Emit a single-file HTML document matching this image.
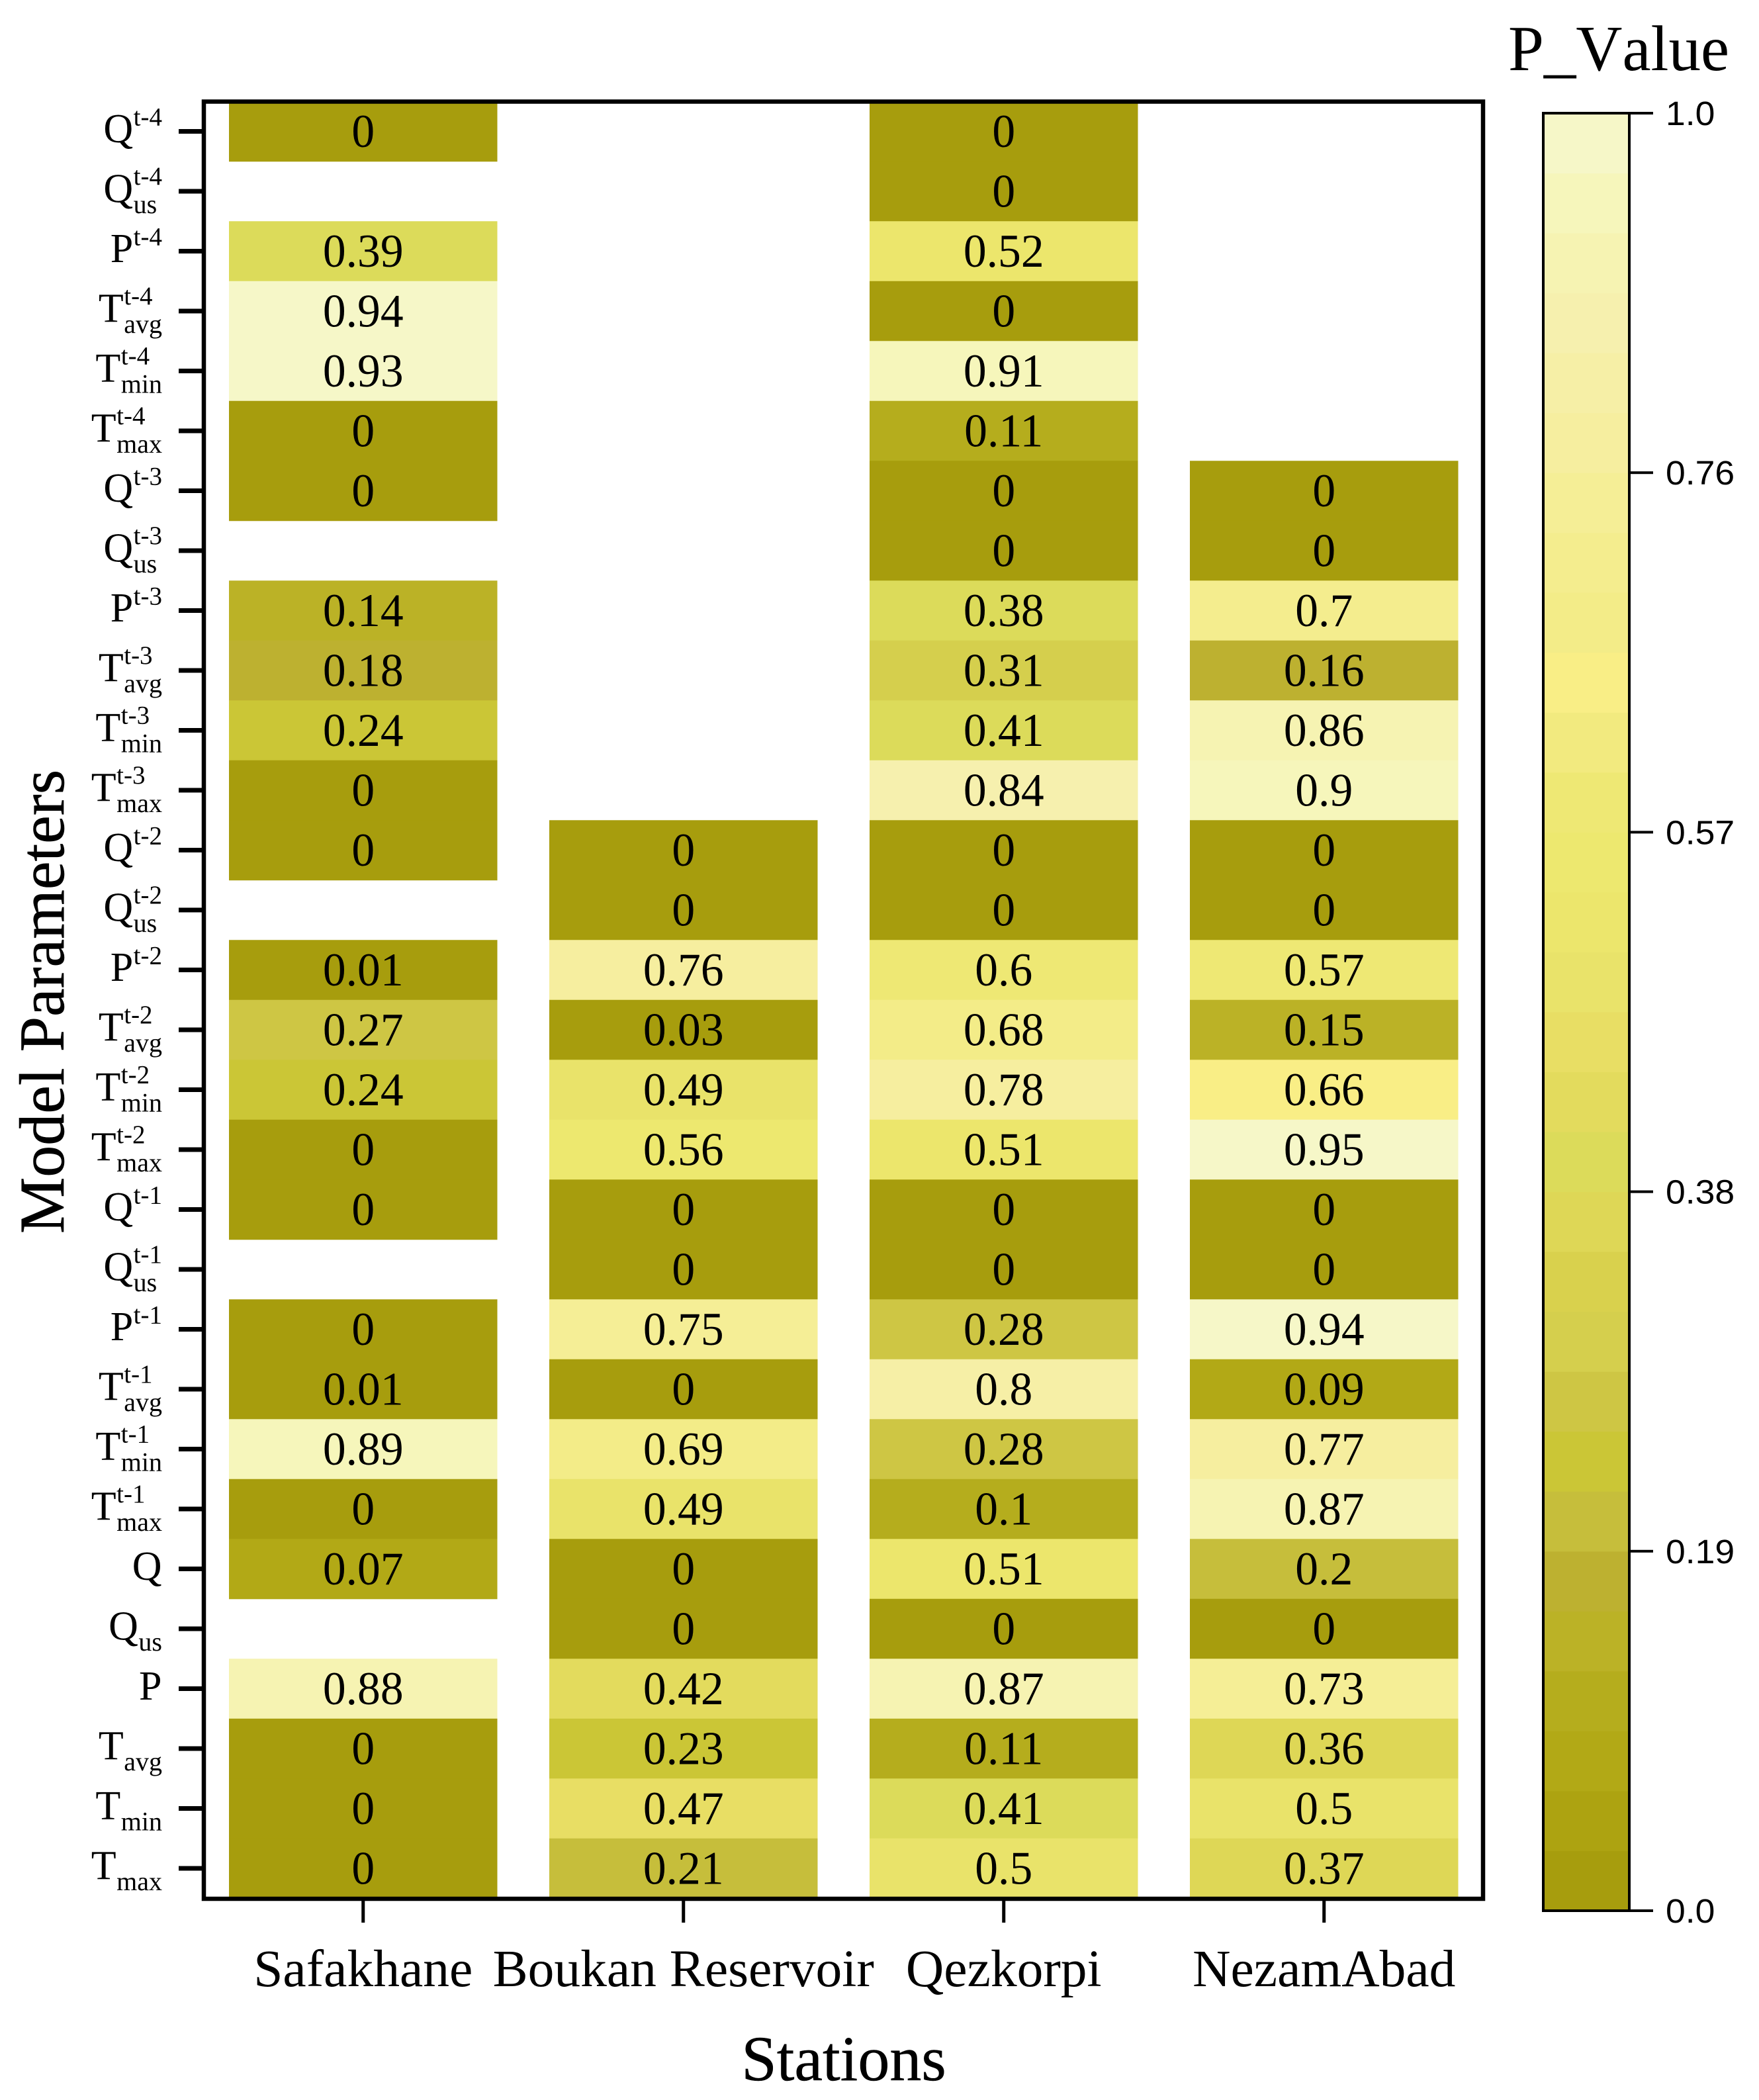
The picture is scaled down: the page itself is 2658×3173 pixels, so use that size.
<!DOCTYPE html>
<html lang="en">
<head>
<meta charset="utf-8">
<title>P-value heatmap by station and model parameter</title>
<style>
html,body{margin:0;padding:0;background:#fff;}
svg{display:block;}
text{fill:#000;font-family:"Liberation Serif",serif;}
</style>
</head>
<body>
<svg id="chart" xmlns="http://www.w3.org/2000/svg" width="2658" height="3173" viewBox="0 0 2658 3173">
  <rect x="0" y="0" width="2658" height="3173" fill="#ffffff"/>
  <g id="cells"></g>
  <g id="cell-labels"></g>
  <rect x="308" y="153.5" width="1933" height="2715.5" fill="none" stroke="#000" stroke-width="6.5"/>
  <g id="y-axis"></g>
  <g id="x-axis"></g>
  <text transform="translate(96,1513.5) rotate(-90)" text-anchor="middle" font-size="96" style="font-kerning:none" stroke="#000" stroke-width="0.6">Model Parameters</text>
  <text x="1275" y="3143" text-anchor="middle" font-size="96" stroke="#000" stroke-width="0.5">Stations</text>
  <g id="colorbar"></g>
  <text x="2446" y="106" text-anchor="middle" font-size="97" style="font-kerning:none">P_Value</text>
</svg>
<script>
const stations = ['Safakhane', 'Boukan Reservoir', 'Qezkorpi', 'NezamAbad'];
const paramBases = ['Q', 'Q', 'P', 'T', 'T', 'T'];
const paramSubs = ['', 'us', '', 'avg', 'min', 'max'];
const lagLabels = ['t-4', 't-3', 't-2', 't-1', ''];
const safakhaneValues = [0, null, 0.39, 0.94, 0.93, 0, 0, null, 0.14, 0.18, 0.24, 0, 0, null, 0.01, 0.27, 0.24, 0, 0, null, 0, 0.01, 0.89, 0, 0.07, null, 0.88, 0, 0, 0];
const boukanValues = [null, null, null, null, null, null, null, null, null, null, null, null, 0, 0, 0.76, 0.03, 0.49, 0.56, 0, 0, 0.75, 0, 0.69, 0.49, 0, 0, 0.42, 0.23, 0.47, 0.21];
const qezkorpiValues = [0, 0, 0.52, 0, 0.91, 0.11, 0, 0, 0.38, 0.31, 0.41, 0.84, 0, 0, 0.6, 0.68, 0.78, 0.51, 0, 0, 0.28, 0.8, 0.28, 0.1, 0.51, 0, 0.87, 0.11, 0.41, 0.5];
const nezamAbadValues = [null, null, null, null, null, null, 0, 0, 0.7, 0.16, 0.86, 0.9, 0, 0, 0.57, 0.15, 0.66, 0.95, 0, 0, 0.94, 0.09, 0.77, 0.87, 0.2, 0, 0.73, 0.36, 0.5, 0.37];
const colorTickValues = [0, 0.19, 0.38, 0.57, 0.76, 0.95];
const colorTickLabels = ['0.0', '0.19', '0.38', '0.57', '0.76', '1.0'];
const colorBandCount = 30;

const seriesValues = [safakhaneValues, boukanValues, qezkorpiValues, nezamAbadValues];

const palette = ['#a79d0d','#ada311','#b2a916','#b5ad1d','#bbb226','#bdb130','#c6be3b','#cbc636','#cec644','#d5cf4d',
                 '#d9d14d','#ded756','#dcdb5a','#e3db5d','#e8de64','#e9e36a','#ece66c','#ede86f','#eee874','#f2ea7f',
                 '#f9ee86','#f3ec88','#f4ed8e','#f5ee96','#f6ee9f','#f6efa6','#f6f0ae','#f6f3b2','#f6f6bb','#f6f7c8'];

const NS = 'http://www.w3.org/2000/svg';
const rowTop = 153.25, rowStep = 90.5;
const colLeft = 346, colStep = 484, colWidth = 405.5;
const barTop = 171, barBottom = 2887, barLeft = 2332, barRight = 2462;
const colorMax = colorTickValues[colorTickValues.length - 1];

function xBand(i) { return colLeft + i * colStep; }
function xCenter(i) { return xBand(i) + colWidth / 2; }
function yBand(r) { return rowTop + r * rowStep; }
function yCenter(r) { return yBand(r) + rowStep / 2; }
function colorY(v) { return barBottom - (v / colorMax) * (barBottom - barTop); }
function bandIndex(v) { return Math.max(0, Math.min(colorBandCount - 1, Math.floor(v / colorMax * colorBandCount + 1e-9))); }
function colorOf(v) { return palette[bandIndex(v)]; }

function make(tag, parent, attrs, content) {
  const el = document.createElementNS(NS, tag);
  for (const k in attrs) el.setAttribute(k, attrs[k]);
  if (content !== undefined) el.textContent = content;
  parent.appendChild(el);
  return el;
}

const cellsG = document.getElementById('cells');
const cellLabelsG = document.getElementById('cell-labels');
const yAxisG = document.getElementById('y-axis');
const xAxisG = document.getElementById('x-axis');
const barG = document.getElementById('colorbar');

seriesValues.forEach(function (values, c) {
  values.forEach(function (v, r) {
    if (v === null) return;
    const cell = make('rect', cellsG, { x: xBand(c), y: yBand(r), width: colWidth, height: rowStep + 0.5, fill: colorOf(v) });
    
    
    const label = make('text', cellLabelsG, {
      transform: 'translate(' + xCenter(c) + ',' + (yCenter(r) + 23.5) + ') scale(0.98,1)',
      'text-anchor': 'middle', 'font-size': 71
    }, String(v));
    
    
  });
});

const labelRight = 245;
lagLabels.forEach(function (lag, l) {
  paramBases.forEach(function (base, p) {
    const r = l * paramBases.length + p;
    const cy = yCenter(r);
    const sub = paramSubs[p];
    const tick = make('rect', yAxisG, { x: 270, y: cy - 3.5, width: 36, height: 7, fill: '#000' });
    
    
    let supEl = null, subEl = null, w = 0;
    if (lag) {
      supEl = make('text', yAxisG, { y: cy - (sub ? 10 : 9), 'font-size': 39 }, lag);
      
      
      w = Math.max(w, supEl.getComputedTextLength());
    }
    if (sub) {
      subEl = make('text', yAxisG, { y: cy + 33, 'font-size': 40 }, sub);
      
      
      w = Math.max(w, subEl.getComputedTextLength());
    }
    const startX = labelRight - w;
    if (supEl) supEl.setAttribute('x', startX);
    if (subEl) subEl.setAttribute('x', startX);
    const main = make('text', yAxisG, { x: startX - 0.5, y: cy + 16.5, 'text-anchor': 'end', 'font-size': 62 }, base);
    
    
  });
});

stations.forEach(function (name, c) {
  const tick = make('rect', xAxisG, { x: xCenter(c) - 2.5, y: 2870, width: 5, height: 35, fill: '#000' });
  
  
  const label = make('text', xAxisG, { x: xCenter(c), y: 3001, 'text-anchor': 'middle', 'font-size': 79.5 }, name);
  
  
});

for (let b = 0; b < colorBandCount; b++) {
  const vLow = b / colorBandCount * colorMax;
  const vHigh = (b + 1) / colorBandCount * colorMax;
  const band = make('rect', barG, { x: barLeft, y: colorY(vHigh), width: barRight - barLeft, height: colorY(vLow) - colorY(vHigh) + 0.5, fill: palette[b] });
  
  
}
const barFrame = make('rect', barG, { x: barLeft, y: barTop, width: barRight - barLeft, height: barBottom - barTop, fill: 'none', stroke: '#000', 'stroke-width': 4 });



colorTickValues.forEach(function (v, i) {
  const y = colorY(v);
  const tick = make('rect', barG, { x: barRight, y: y - 2, width: 36, height: 4, fill: '#000' });
  
  
  const label = make('text', barG, {
    transform: 'translate(2517,' + (y + 18) + ') scale(1.05,1)',
    'font-size': 51, style: 'font-family:"Liberation Sans",sans-serif'
  }, colorTickLabels[i]);
  
  
});
</script>
</body>
</html>
